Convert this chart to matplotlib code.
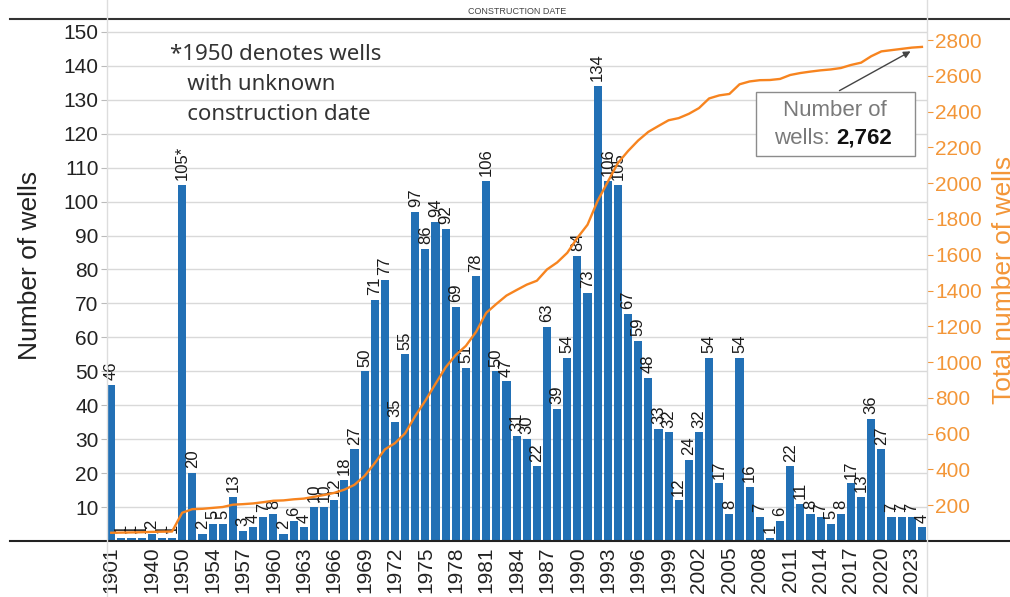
import numpy as np
import matplotlib
matplotlib.use("Agg")
from matplotlib import pyplot as plt
from matplotlib.lines import Line2D
from matplotlib.patches import Rectangle

plt.rcParams['font.family'] = ['Liberation Sans', 'DejaVu Sans']

# categories (construction year); 1950 = unknown construction date
years = ['1901', '1910', '1925', '1930', '1940', '1946', '1948',
         '1950', '1951', '1953'] + [str(y) for y in range(1954, 2025)]
wells = [46, 1, 1, 1, 2, 1, 1,
         105, 20, 2,
         5, 5, 13, 3, 4, 7, 8, 2, 6, 4, 10, 10, 12, 18, 27,
         50, 71, 77, 35, 55, 97, 86, 94, 92, 69, 51, 78,
         106, 50, 47, 31, 30, 22, 63, 39, 54, 84, 73,
         134, 106, 105, 67, 59, 48, 33, 32, 12, 24, 32,
         54, 17, 8, 54, 16, 7, 1, 6, 22, 11, 8,
         7, 5, 8, 17, 13, 36, 27, 7, 7, 7, 4]
shown_years = ['1901', '1940', '1950'] + [str(y) for y in range(1954, 2024, 3)]
bar_labels = [str(v) for v in wells]
bar_labels[years.index('1950')] = '105*'

total = np.cumsum(wells)

blue = '#2270B5'
orange = '#F7841F'
orange_txt = '#F39638'

W, H = 1010, 597
fig = plt.figure(figsize=(W / 100, H / 100), dpi=100)
ax = fig.add_axes([107 / W, 56 / H, 820 / W, 522 / H])

x = np.arange(len(years))
ax.bar(x, wells, width=0.8, color=blue, zorder=2)
for i, v in enumerate(wells):
    ax.text(i, v + 1.4, bar_labels[i], rotation=90, ha='center', va='bottom',
            fontsize=12, color='#1a1a1a', zorder=4)

ax.set_xlim(-0.42, len(years) - 0.5)
ax.set_ylim(0, 153.8)
ax.set_yticks(range(10, 151, 10))
ax.yaxis.grid(True, color='#d9d9d9', lw=1)
ax.set_axisbelow(True)
tick_pos = [years.index(y) for y in shown_years]
ax.set_xticks(tick_pos)
ax.set_xticklabels(shown_years, rotation=90, fontsize=15, color='#222222')
ax.tick_params(axis='x', length=0, pad=4)
ax.tick_params(axis='y', length=4, color='#bbbbbb', labelsize=15,
               labelcolor='#222222', pad=2)
for s in ax.spines.values():
    s.set_visible(False)

ax2 = ax.twinx()
ax2.plot(x, total, color=orange, lw=1.7, zorder=3)
ax2.set_ylim(0, 2918)
ax2.set_yticks(range(200, 2801, 200))
ax2.tick_params(axis='y', length=4, color=orange_txt, labelsize=15,
                labelcolor=orange_txt, pad=2)
for s in ax2.spines.values():
    s.set_visible(False)

fig.text(30 / W, 1 - 265 / H, 'Number of wells', rotation=90, ha='center',
         va='center', fontsize=19, color='#222222')
fig.text(1004 / W, 1 - 280 / H, 'Total number of wells', rotation=90,
         ha='center', va='center', fontsize=19, color=orange_txt)

# table-like frame lines
fig.add_artist(Line2D([10 / W, 1], [1 - 19 / H] * 2, color='#333333', lw=1.5))
fig.add_artist(Line2D([10 / W, 1], [1 - 541 / H] * 2, color='#222222', lw=1.5))
fig.add_artist(Line2D([107 / W] * 2, [0, 1], color='#dddddd', lw=1))
fig.add_artist(Line2D([927 / W] * 2, [0, 1], color='#dddddd', lw=1))
fig.text(517 / W, 1 - 11 / H, 'CONSTRUCTION DATE', ha='center', va='center',
         fontsize=6.5, color='#444444')

# footnote
fig.text(170 / W, 1 - 44 / H,
         '*1950 denotes wells\n   with unknown\n   construction date',
         ha='left', va='top', fontsize=16, color='#333333', linespacing=1.55,
         family=['Noto Sans', 'DejaVu Sans'])

# total box with arrow
fig.add_artist(Rectangle((756 / W, 1 - 156 / H), 159 / W, 64 / H,
                         transform=fig.transFigure, facecolor='white',
                         edgecolor='#8c8c8c', lw=1, zorder=5))
fig.text(835 / W, 1 - 111 / H, 'Number of', ha='center', va='center',
         fontsize=16, color='#7a7a7a', zorder=6)
fig.text(836 / W, 1 - 138 / H, 'wells: ', ha='right', va='center',
         fontsize=16, color='#7a7a7a', zorder=6)
fig.text(836 / W, 1 - 138 / H, f'{total[-1]:,}', ha='left', va='center',
         fontsize=16, color='#111111', fontweight='bold', zorder=6)
ax2.annotate('', xy=(913 / W, 1 - 50 / H), xycoords='figure fraction',
             xytext=(837 / W, 1 - 92 / H), textcoords='figure fraction',
             arrowprops=dict(arrowstyle='-|>', color='#444444', lw=1,
                             mutation_scale=10))

fig.savefig('out.png', dpi=100)
